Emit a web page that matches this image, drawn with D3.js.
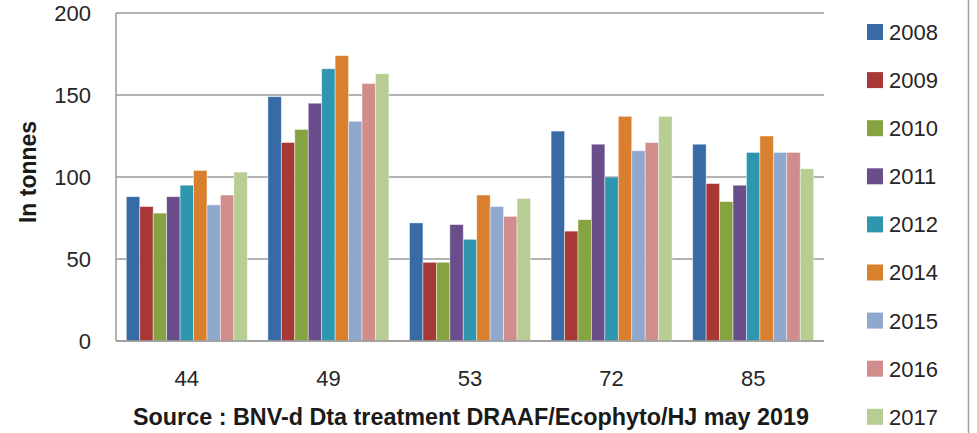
<!DOCTYPE html>
<html><head><meta charset="utf-8">
<script src="https://cdn.jsdelivr.net/npm/d3@7"></script>
<style>body{margin:0;background:#fff}svg{display:block}</style>
</head><body>
<svg id="c" width="977" height="433"></svg>
<script>
const categories = ["44","49","53","72","85"];
const years = ["2008","2009","2010","2011","2012","2014","2015","2016","2017"];
const colors = ["#386BA6","#A73836","#86A341","#6A4E8B","#2E96AF","#DA7F2E","#8FA8CD","#D18C8C","#B8CD93"];
const v2008 = [88,149,72,128,120];
const v2009 = [82,121,48,67,96];
const v2010 = [78,129,48,74,85];
const v2011 = [88,145,71,120,95];
const v2012 = [95,166,62,100,115];
const v2014 = [104,174,89,137,125];
const v2015 = [83,134,82,116,115];
const v2016 = [89,157,76,121,115];
const v2017 = [103,163,87,137,105];
const series = [v2008,v2009,v2010,v2011,v2012,v2014,v2015,v2016,v2017];
const yTicks = [0,50,100,150,200];
const yTitle = "In tonnes";
const source = "Source : BNV-d Dta treatment DRAAF/Ecophyto/HJ may 2019";

const svg = d3.select("#c");
const m = {l:116, t:13, r:824, b:341};
const font = "'Liberation Sans', Arial, sans-serif";

const x0 = d3.scaleBand().domain(categories).range([m.l, m.r]).paddingInner(0.1455).paddingOuter(0.0728);
const x1 = d3.scaleBand().domain(years).range([0, x0.bandwidth()]);
const y = d3.scaleLinear().domain([0,200]).range([m.b, m.t]);

svg.append("g").selectAll("line").data(yTicks).join("line")
  .attr("x1", m.l).attr("x2", m.r)
  .attr("y1", d=>y(d)).attr("y2", d=>y(d))
  .attr("stroke", "#989898").attr("stroke-width", 1.5);

const g = svg.append("g");
categories.forEach((c, ci) => {
  years.forEach((yr, si) => {
    g.append("rect")
      .attr("x", x0(c) + x1(yr))
      .attr("y", y(series[si][ci]))
      .attr("width", x1.bandwidth())
      .attr("height", y(0) - y(series[si][ci]))
      .attr("fill", colors[si])
      .attr("stroke", "rgba(255,255,255,0.55)")
      .attr("stroke-width", 0.8);
  });
});

svg.append("line").attr("x1", m.l).attr("x2", m.l).attr("y1", m.t).attr("y2", m.b)
  .attr("stroke", "#989898").attr("stroke-width", 1.5);
svg.append("line").attr("x1", m.l).attr("x2", m.r).attr("y1", m.b).attr("y2", m.b)
  .attr("stroke", "#989898").attr("stroke-width", 1.5);

svg.append("g").selectAll("text").data(yTicks).join("text")
  .attr("x", 91).attr("y", d=>y(d)).attr("dy", "0.36em")
  .attr("text-anchor", "end").attr("font-family", font).attr("font-size", 22)
  .attr("fill", "#262626").text(d=>d);

svg.append("g").selectAll("text").data(categories).join("text")
  .attr("x", d=>x0(d) + x0.bandwidth()/2).attr("y", 378).attr("dy", "0.36em")
  .attr("text-anchor", "middle").attr("font-family", font).attr("font-size", 22)
  .attr("fill", "#262626").text(d=>d);

svg.append("text").attr("transform", "translate(36,172) rotate(-90)")
  .attr("text-anchor", "middle").attr("font-family", font).attr("font-size", 23)
  .attr("font-weight", "bold").attr("fill", "#1a1a1a").text(yTitle);

svg.append("text").attr("x", 471).attr("y", 425)
  .attr("text-anchor", "middle").attr("font-family", font).attr("font-size", 23)
  .attr("font-weight", "bold").attr("fill", "#1a1a1a")
  .attr("textLength", 676).attr("lengthAdjust", "spacingAndGlyphs").text(source);

const lg = svg.append("g");
years.forEach((yr, i) => {
  const cy = 32 + i * 48.1;
  lg.append("rect").attr("x", 867).attr("y", cy - 8).attr("width", 16).attr("height", 16).attr("fill", colors[i]);
  lg.append("text").attr("x", 889).attr("y", cy).attr("dy", "0.36em")
    .attr("font-family", font).attr("font-size", 22).attr("fill", "#262626").text(yr);
});

svg.append("line").attr("x1", 968.5).attr("x2", 968.5).attr("y1", 0).attr("y2", 433)
  .attr("stroke", "#a0a0a0").attr("stroke-width", 1.5);
</script>
</body></html>
